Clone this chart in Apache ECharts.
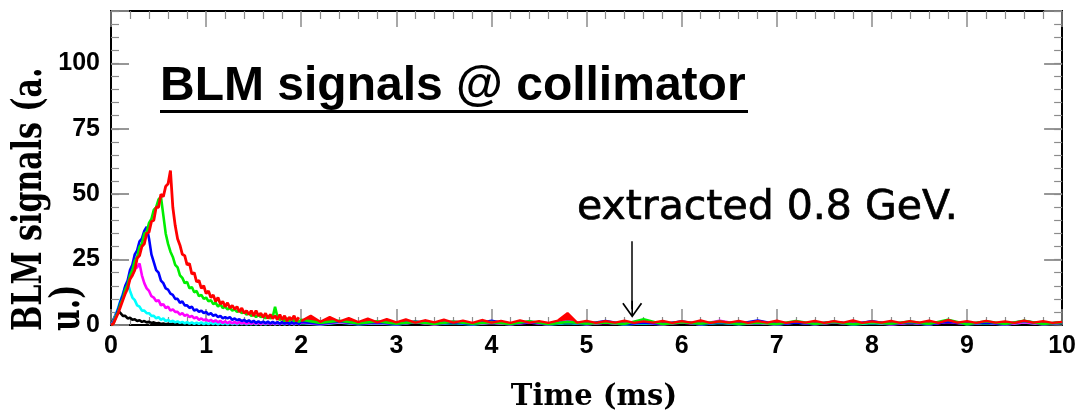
<!DOCTYPE html>
<html><head><meta charset="utf-8">
<script src="https://cdn.jsdelivr.net/npm/echarts@6/dist/echarts.min.js"></script>
<style>html,body{margin:0;padding:0;background:#fff}#c{width:1079px;height:417px}</style>
</head><body><div id="c"></div>
<script>
// Histogram binning (ms)
const earlyBin = 0.025;   // bins 0 .. 1.975 ms
const tailStart = 2.0;
const redTailBin = 0.1;
const tailBin = 0.2;

// BLM signal values (a.u.)
const redEarly = [0,0.5,2.5,4.5,7,9.5,12,14,17.5,19,
 21,25.5,26.5,30,31,35,35.5,39.5,40,45,
 45,50,49,53,54,59,45,38,33,30.5,
 27,26.5,23,23.5,19.5,20,16.5,17,14,15,
 12,13,10.5,11.5,9,10.5,8,9,7,8.5,
 6.5,7.5,6,7,5,6.5,4.5,5.5,4,5.5,
 3.5,5.5,3.5,4.5,3,4.5,2.5,4,2.5,3.5,
 2,4,2,3.5,1.5,3,2,3.5,1.5,3];
const redTail = [1.5,3.5,1.2,3.0,1.3,2.6,1.1,2.4,1.0,2.2,
 1.0,2.1,0.9,1.8,1.0,2.0,0.9,1.7,0.8,1.9,
 0.9,1.6,0.8,1.8,0.9,1.5,0.8,1.7,4.5,0.9,
 1.6,0.8,1.5,0.9,1.7,0.8,1.4,0.9,1.6,0.8,
 1.5,0.9,1.8,0.8,1.4,0.9,1.6,0.8,1.5,0.9,
 1.7,0.8,1.4,0.9,1.6,0.8,1.5,0.9,1.8,0.8,
 1.4,0.9,1.6,0.8,1.5,0.9,1.7,0.8,1.9,0.9,
 1.5,0.8,1.6,0.9,1.4,0.8,1.7,0.9,1.5,0.8,
 1.2];
const greenEarly = [0,0.5,3,5,8,10,13.5,15.5,19,21,
 24.5,26,30,31,35,35.5,39,40.5,44,45,
 48,49,42,35,31,28,26,23,22,19,
 18,16,16.5,14,14.5,12.5,13,11,11.5,10,
 10.5,9,9.5,8,8.5,7,8,6.5,7,6,
 6.5,5.5,6,5,5.5,4.5,5,4,4.5,3.5,
 4,3,4,3,3.5,2.5,3.5,2.5,3,7,
 3,2,2.5,1.5,2.5,1.5,2.5,1.5,2,1.2];
const greenTail = [2.0,0.8,1.6,0.6,1.4,0.5,1.2,0.4,1.3,0.5,
 1.1,0.4,1.4,0.3,1.2,0.5,1.0,0.4,2.2,0.3,
 1.1,0.5,1.3,0.4,1.0,0.3,1.5,0.4,1.2,0.3,
 1.1,0.5,1.3,0.4,2.0,0.3,1.4,0.4,1.6,0.4,1.1];
const blueEarly = [0,1,3.5,6,9,11.5,15,17,21,23,
 27,28.5,32,33,36,37.5,33,27,24,21,
 20,17,16,14,13.5,12,11.5,10,10,8.5,
 9,7.5,7.5,6.5,7,5.5,6,5,5.5,4.5,
 5,4,4.5,3.5,4,3,3.5,2.5,3,2.5,
 3,2,2.5,1.8,2.2,1.5,2,1.2,1.8,1,
 1.6,0.8,1.4,0.8,1.3,0.7,1.3,0.6,1.2,0.6,
 1.1,0.5,1.2,0.5,1,0.4,1.1,0.5,1,0.4];
const blueTail = [1.2,0.5,1.4,0.4,1.1,0.3,1.3,0.5,1.0,0.3,
 1.6,0.4,1.2,0.3,1.1,0.4,1.5,0.3,1.0,0.4,
 1.3,0.3,1.1,0.5,1.7,0.3,1.0,0.4,1.2,0.3,
 1.4,0.4,1.1,0.3,1.3,0.5,1.0,0.3,1.5,0.4,1.0];
const magentaEarly = [0,1,3.5,5.5,8.5,10.5,13.5,15,18,19,
 21.5,22,23.5,19,16,14,13,11,10.5,9,
 9.5,7.5,8,6.5,7,5.5,6,5,5,4,
 4.5,3.5,4,3,3.5,2.5,3,2,2.5,1.8,
 2.2,1.5,2,1.2,1.8,1,1.6,0.8,1.4,0.7,
 1.3,0.6,1.2,0.5,1.1,0.5,1,0.4,1.1,0.4,
 1,0.4,0.9,0.3,1,0.4,0.9,0.3,1,0.3,
 0.9,0.3,1,0.4,0.8,0.3,0.9,0.3,1,0.3];
const magentaTail = [1.0,0.3,1.2,0.4,0.9,0.3,1.1,0.2,1.3,0.4,
 0.9,0.3,1.0,0.2,1.4,0.3,0.9,0.4,1.1,0.2,
 1.0,0.3,1.6,0.4,0.9,0.2,1.1,0.3,1.0,0.4,
 1.3,0.2,0.9,0.3,1.2,0.4,1.0,0.2,1.1,0.3,0.9];
const cyanEarly = [0,1.5,4,6.5,9.5,12,14.5,16,13,10.5,
 9.5,7.5,7,5.5,5.5,4.5,4.5,3.5,3.5,2.5,
 3,2,2.5,1.5,2,1.2,1.6,1,1.4,0.8,
 1.2,0.6,1.1,0.5,1,0.4,0.9,0.4,1,0.3,
 0.8,0.3,0.9,0.3,0.8,0.2,0.9,0.3,0.8,0.2,
 0.9,0.3,0.7,0.2,0.8,0.3,0.9,0.2,0.7,0.3,
 0.8,0.2,0.9,0.3,0.7,0.2,0.8,0.3,0.9,0.2,
 0.7,0.3,0.8,0.2,0.9,0.3,0.7,0.2,0.8,0.3];
const cyanTail = [0.8,0.2,1.0,0.3,0.7,0.2,1.1,0.3,0.8,0.2,
 0.9,0.3,1.2,0.2,0.8,0.3,1.0,0.2,0.7,0.3,
 1.3,0.2,0.9,0.3,0.8,0.2,1.0,0.3,1.1,0.2,
 0.8,0.3,0.9,0.2,1.4,0.3,0.8,0.2,1.0,0.3,0.8];
const blackEarly = [0,2,4,5.5,4.5,3.5,3.5,2.5,2.8,2,
 2.2,1.5,1.8,1.2,1.5,1,1.2,0.8,1,0.6,
 0.8,0.4,0.6,0.3,0.5,0.2,0.5,0.3,0.4,0.2,
 0.5,0.2,0.4,0.1,0.4,0.2,0.5,0.1,0.4,0.2,
 0.4,0.1,0.5,0.2,0.3,0.1,0.4,0.2,0.5,0.1,
 0.4,0.2,0.3,0.1,0.5,0.2,0.4,0.1,0.3,0.2,
 0.4,0.1,0.5,0.2,0.3,0.1,0.4,0.2,0.5,0.1,
 0.4,0.2,0.3,0.1,0.4,0.2,0.5,0.1,0.3,0.2];
const blackTail = [0.4,0.1,0.5,0.2,0.4,0.1,0.6,0.2,0.4,0.1,
 0.5,0.2,0.4,0.1,0.6,0.2,0.4,0.1,0.5,0.2,
 0.4,0.1,0.6,0.2,0.4,0.1,0.5,0.2,0.4,0.1,
 0.6,0.2,0.4,0.1,0.5,0.2,0.4,0.1,0.5,0.2,0.4];

const arrowAt = [5.48, 32, 6];   // time, from value, to value
const titleText = 'BLM signals @ collimator';
const noteText = 'extracted 0.8 GeV.';
const yTitle = 'BLM signals (a.\nu.)';
const xTitle = 'Time (ms)';

function earlyPairs(early) {
  return early.map((v, i) => [+(i * earlyBin).toFixed(4), v]);
}
function tailPairs(tail, bin) {
  return tail.map((v, j) => [+(tailStart + j * bin).toFixed(4), v]);
}

const RED = '#ff0000';
const seriesDefs = [
  ['black', '#000000', blackEarly, blackTail, tailBin],
  ['cyan', '#00ffff', cyanEarly, cyanTail, tailBin],
  ['magenta', '#ff00ff', magentaEarly, magentaTail, tailBin],
  ['blue', '#0000ff', blueEarly, blueTail, tailBin],
  ['green', '#00ee00', greenEarly, greenTail, tailBin]
];

const tickCol = '#8c8c8c';
const lab = {color:'#000', fontFamily:'Liberation Sans', fontWeight:'bold', fontSize:25};
function xAx(pos, showLab) {
  return {type:'value', position:pos, min:0, max:10, interval:1,
    axisLine:{show:true, onZero:false, lineStyle:{color:'#000', width:2}},
    axisTick:{show:true, inside:true, length:16, lineStyle:{color:tickCol, width:1.5}},
    minorTick:{show:true, splitNumber:5, length:8, lineStyle:{color:tickCol, width:1.2}},
    splitLine:{show:false}, minorSplitLine:{show:false},
    axisLabel:showLab ? Object.assign({margin:9}, lab) : {show:false}};
}
function yAx(pos, interval, len, showLab) {
  return {type:'value', position:pos, min:0, max:120, interval:interval,
    axisLine:{show:true, onZero:false, lineStyle:{color:'#000', width:2}},
    axisTick:{show:true, inside:true, length:len, lineStyle:{color:tickCol, width: len > 10 ? 1.8 : 1.2}},
    splitLine:{show:false},
    axisLabel:showLab ? Object.assign({margin:11, formatter:v => (v % 25 === 0 ? String(v) : '')}, lab) : {show:false}};
}

const series = seriesDefs.map(([name, color, e, t, bin]) => ({
  name, type:'line', data:earlyPairs(e).concat(tailPairs(t, bin)), showSymbol:false, symbol:'none',
  lineStyle:{color, width:2.6}, itemStyle:{color}, silent:true, animation:false
}));
series.push({
  name:'red', type:'line', data:tailPairs(redTail, redTailBin), showSymbol:false, symbol:'none',
  lineStyle:{color:RED, width:2.4}, itemStyle:{color:RED}, areaStyle:{color:RED, opacity:1},
  silent:true, animation:false
});
series.push({
  name:'red', type:'line', data:earlyPairs(redEarly), showSymbol:false, symbol:'none',
  lineStyle:{color:RED, width:2.8}, itemStyle:{color:RED}, silent:true, animation:false,
  markLine:{
    silent:true, animation:false,
    symbol:['none', 'path://M10,0 L20,14 L18.6,15 L10.8,4 L10.8,17 L9.2,17 L9.2,4 L1.4,15 L0,14 Z'],
    symbolSize:[20, 17],
    lineStyle:{color:'#000', width:1.5, type:'solid'},
    itemStyle:{color:'#000'},
    label:{show:false}, emphasis:{disabled:true},
    data:[[{coord:[arrowAt[0], arrowAt[1]]}, {coord:[arrowAt[0], arrowAt[2]]}]]
  }
});

const chart = echarts.init(document.getElementById('c'), null, {renderer:'canvas'});
chart.setOption({
  animation:false,
  backgroundColor:'#fff',
  grid:{left:111, right:11, top:11, bottom:92, containLabel:false},
  title:[
    {text:titleText, left:160, top:63, padding:0,
     textStyle:{fontFamily:'Liberation Sans', fontWeight:'bold', fontSize:48, color:'#000'}},
    {text:noteText, left:577, top:188, padding:0,
     textStyle:{fontFamily:'DejaVu Sans', fontWeight:'normal', fontSize:41, color:'#000',
       textBorderColor:'#000', textBorderWidth:0.7}}
  ],
  xAxis:[xAx('bottom', true), xAx('top', false)],
  yAxis:[yAx('left', 5, 8, true), yAx('left', 25, 18, false), yAx('right', 5, 8, false), yAx('right', 25, 18, false)],
  series,
  graphic:[
    {type:'rect', shape:{x:160, y:110, width:588, height:3}, style:{fill:'#000'}, silent:true},
    {type:'text', x:11.5, y:331, rotation:Math.PI/2, scaleY:1.35, silent:true,
     style:{text:yTitle, fill:'#000', font:'bold 30px "DejaVu Serif"', align:'left', verticalAlign:'top', lineHeight:28}},
    {type:'text', x:594, y:397, silent:true,
     style:{text:xTitle, fill:'#000', font:'bold 29px "DejaVu Serif"', align:'center', verticalAlign:'middle'}}
  ]
});
</script></body></html>
